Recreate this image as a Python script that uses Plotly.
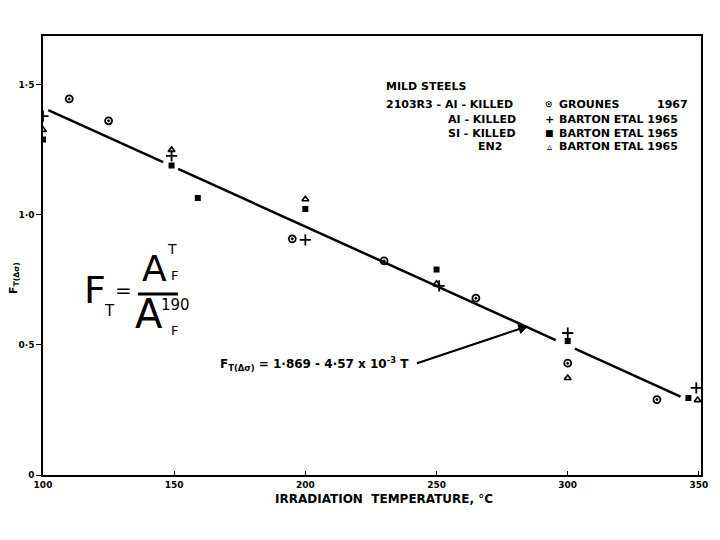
import plotly.graph_objects as go

# ---- data ----
groune_T = [110, 125, 195, 230, 265, 300, 334]
groune_F = [1.446, 1.362, 0.908, 0.823, 0.680, 0.430, 0.290]

al_T = [100, 149, 200, 251, 300, 349]
al_F = [1.380, 1.227, 0.904, 0.727, 0.546, 0.335]

si_T = [100, 149, 159, 200, 250, 300, 346]
si_F = [1.290, 1.190, 1.065, 1.023, 0.790, 0.515, 0.296]

en2_T = [100, 149, 200, 250, 300, 349.5]
en2_F = [1.327, 1.250, 1.060, 0.735, 0.373, 0.288]

# fit line F = 1.869 - 4.57e-3 T, drawn in broken segments
fit_T = [102, 145.8, None, 151.5, 295.4, None, 302.7, 343]
fit_F = [1.403, 1.203, None, 1.177, 0.519, None, 0.486, 0.301]

x_ticks = [100, 150, 200, 250, 300, 350]
x_tick_text = ["100", "150", "200", "250", "300", "350"]
y_ticks = [0, 0.5, 1.0, 1.5]
y_tick_text = ["0", "0·5", "1·0", "1·5"]

FONT = "DejaVu Sans"

# target plot area in screen pixels
L, R, T, B = 42, 700, 35, 474
W, H = float(R - L), float(B - T)
OFF = 7  # page body offset


def px(xp, yp):
    return (xp - L) / W, (B - yp) / H


fig = go.Figure()
fig.add_trace(go.Scatter(x=fit_T, y=fit_F, mode="lines",
                         line=dict(color="black", width=2.5), showlegend=False))
fig.add_trace(go.Scatter(x=groune_T, y=groune_F, mode="markers", showlegend=False,
                         marker=dict(symbol="circle-open-dot", size=7, color="black",
                                     line=dict(color="black", width=1.8))))
fig.add_trace(go.Scatter(x=al_T, y=al_F, mode="markers", showlegend=False,
                         marker=dict(symbol="cross-thin", size=8, color="black",
                                     line=dict(color="black", width=1.8))))
fig.add_trace(go.Scatter(x=si_T, y=si_F, mode="markers", showlegend=False,
                         marker=dict(symbol="square", size=6, color="black")))
fig.add_trace(go.Scatter(x=en2_T, y=en2_F, mode="markers", showlegend=False,
                         marker=dict(symbol="triangle-up-open", size=6, color="black",
                                     line=dict(color="black", width=1.6))))

ann = []


def txt(xp, yp, t, size=11, anchor="left", bold=True, angle=0, family=FONT):
    x, y = px(xp, yp)
    ann.append(dict(xref="paper", yref="paper", x=x, y=y, xanchor=anchor, yanchor="middle",
                    text=("<b>%s</b>" % t) if bold else t, showarrow=False, textangle=angle,
                    font=dict(family=family, size=size, color="black")))


# legend block
txt(383, 85, "MILD STEELS")
txt(383, 104, "2103R3 - AI - KILLED")
txt(517, 118, "AI - KILLED", anchor="right")
txt(517, 132, "SI - KILLED", anchor="right")
txt(503, 145, "EN2", anchor="right")
txt(548, 103, "⊙", 9, "center")
txt(548, 118, "+", 11, "center")
txt(548, 132, "■", 9, "center")
txt(548, 145, "▵", 10, "center")
txt(556, 104, "GROUNES")
txt(689, 104, "1967", anchor="right")
txt(556, 118, "BARTON ETAL 1965")
txt(556, 132, "BARTON ETAL 1965")
txt(556, 145, "BARTON ETAL 1965")

# equation with arrow
ann.append(dict(x=285, y=0.573, ax=242, ay=0.428, xref="x", yref="y", axref="x", ayref="y",
                showarrow=True, arrowhead=2, arrowsize=1, arrowwidth=2, arrowcolor="black", text=""))
txt(410, 363, "F<sub>T(Δσ)</sub> = 1·869 - 4·57 x 10<sup>-3</sup> T", 12, anchor="right")

# handwritten formula F_T = A_F^T / A_F^190
HF = "DejaVu Sans"
txt(94, 289, "F", 38, "center", False, family=HF)
txt(108, 310, "T", 15, "center", False, family=HF)
txt(122, 289, "=", 20, "center", False, family=HF)
txt(153, 267, "A", 36, "center", False, family=HF)
txt(171, 248, "T", 14, "center", False, family=HF)
txt(173, 274, "F", 13, "center", False, family=HF)
txt(148, 313, "A", 40, "center", False, family=HF)
txt(174, 304, "190", 15, "center", False, family=HF)
txt(173, 329, "F", 13, "center", False, family=HF)
bx0, by0 = px(137, 293)
bx1, _ = px(177, 293)

# axis titles
txt(13, 277, "F<sub>T(Δσ)</sub>", 11, "center", True, angle=-90)
txt(383, 498, "IRRADIATION  TEMPERATURE, °C", 12, "center")

fig.update_layout(
    width=720, height=540,
    margin=dict(l=L - OFF, r=720 - R + OFF, t=T - OFF, b=540 - B + OFF, autoexpand=False),
    paper_bgcolor="white", plot_bgcolor="white",
    font=dict(family=FONT, size=9, color="black"),
    annotations=ann,
    shapes=[dict(type="line", xref="paper", yref="paper", x0=bx0, x1=bx1, y0=by0, y1=by0,
                 line=dict(color="black", width=3))],
    xaxis=dict(range=[100, 350.8], tickvals=x_ticks, ticktext=["<b>%s</b>" % t for t in x_tick_text],
               showgrid=False, zeroline=False, showline=True, linecolor="black", linewidth=2,
               mirror=True, ticks="inside", ticklen=4, tickcolor="black",
               tickfont=dict(family=FONT, size=9)),
    yaxis=dict(range=[0, 1.688], tickvals=y_ticks, ticktext=["<b>%s</b>" % t for t in y_tick_text],
               showgrid=False, zeroline=False, showline=True, linecolor="black", linewidth=1.5,
               mirror=True, ticks="outside", ticklen=5, tickcolor="black",
               tickfont=dict(family=FONT, size=9)),
)

fig.write_html("out.html")
